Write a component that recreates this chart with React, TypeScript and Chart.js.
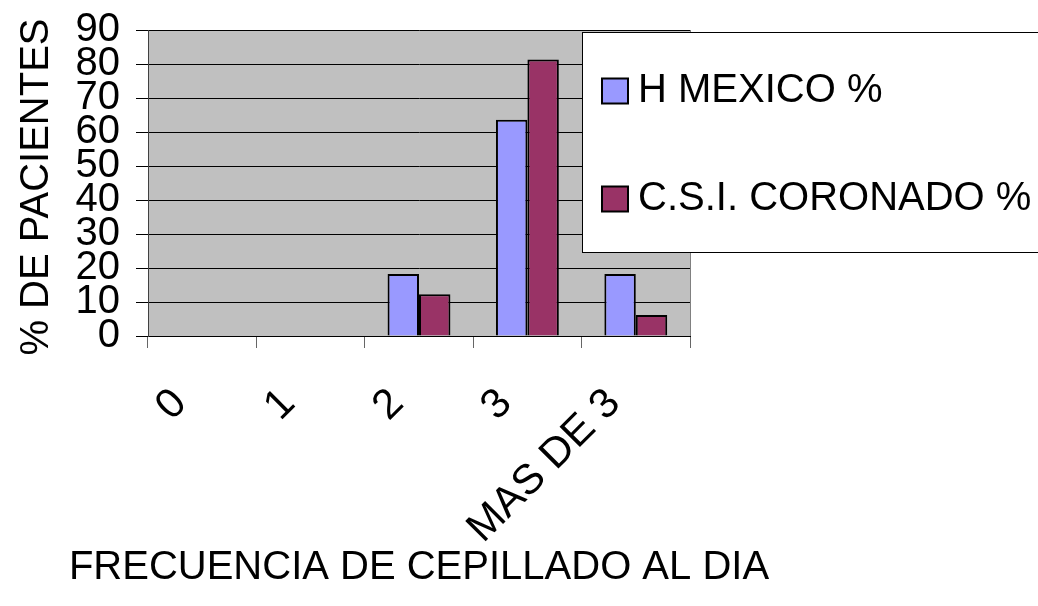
import React, { useEffect, useRef } from 'react';
import { Chart, registerables } from 'chart.js';

Chart.register(...registerables);

// ---- data ----
const categories: string[] = ['0', '1', '2', '3', 'MAS DE 3'];
const hMexico: number[] = [0, 0, 18.2, 63.6, 18.2];
const csiCoronado: number[] = [0, 0, 12.3, 81.3, 6.2];
const seriesNames: string[] = ['H MEXICO %', 'C.S.I. CORONADO %'];
const seriesColors: string[] = ['#9999FF', '#993366'];
const yTitle = '% DE PACIENTES';
const xTitle = 'FRECUENCIA DE CEPILLADO AL DIA';
const yMin = 0;
const yMax = 90;
const yStep = 10;

const FONT = "'Liberation Sans', Arial, Helvetica, sans-serif";

const plotBackground = {
  id: 'plotBackground',
  beforeDraw(chart: any) {
    const { ctx, chartArea } = chart;
    ctx.save();
    ctx.fillStyle = '#C0C0C0';
    ctx.fillRect(chartArea.left, chartArea.top, chartArea.right - chartArea.left, chartArea.bottom - chartArea.top);
    ctx.restore();
  },
  afterDatasetsDraw(chart: any) {
    const { ctx, chartArea } = chart;
    ctx.save();
    ctx.strokeStyle = '#808080';
    ctx.lineWidth = 1;
    ctx.beginPath();
    ctx.moveTo(Math.round(chartArea.right) + 0.5, chartArea.top);
    ctx.lineTo(Math.round(chartArea.right) + 0.5, chartArea.bottom);
    ctx.stroke();
    ctx.restore();
  },
};

const axisTitles = {
  id: 'axisTitles',
  afterDraw(chart: any) {
    const { ctx, chartArea } = chart;
    ctx.save();
    ctx.font = `40px ${FONT}`;
    ctx.fillStyle = '#000';
    ctx.textAlign = 'center';
    ctx.textBaseline = 'middle';
    // x title
    ctx.fillText(xTitle, (chartArea.left + chartArea.right) / 2, 568);
    // y title
    ctx.translate(37, 187);
    ctx.rotate(-Math.PI / 2);
    ctx.fillText(yTitle, 0, 0);
    ctx.restore();
  },
};

const boxLegend = {
  id: 'boxLegend',
  afterDraw(chart: any) {
    const { ctx } = chart;
    ctx.save();
    ctx.fillStyle = '#FFFFFF';
    ctx.fillRect(582, 32, 470, 220);
    ctx.strokeStyle = '#000';
    ctx.lineWidth = 1;
    ctx.strokeRect(582.5, 32.5, 470, 220);
    const rows = [91, 199];
    chart.data.datasets.forEach((ds: any, i: number) => {
      const cy = rows[i];
      ctx.fillStyle = ds.backgroundColor;
      ctx.fillRect(602, cy - 12.5, 26, 25);
      ctx.strokeStyle = '#000';
      ctx.lineWidth = 2;
      ctx.strokeRect(602, cy - 12.5, 26, 25);
      ctx.fillStyle = '#000';
      ctx.font = `40px ${FONT}`;
      ctx.textAlign = 'left';
      ctx.textBaseline = 'middle';
      ctx.fillText(ds.label, 638, cy);
    });
    ctx.restore();
  },
};

export default function App() {
  const canvasRef = useRef<HTMLCanvasElement | null>(null);

  useEffect(() => {
    if (!canvasRef.current) return;
    const chart = new Chart(canvasRef.current, {
      type: 'bar',
      data: {
        labels: categories,
        datasets: [
          {
            label: seriesNames[0],
            data: hMexico,
            backgroundColor: seriesColors[0],
            borderColor: '#000',
            borderWidth: 2,
            categoryPercentage: 0.58,
            barPercentage: 1,
          },
          {
            label: seriesNames[1],
            data: csiCoronado,
            backgroundColor: seriesColors[1],
            borderColor: '#000',
            borderWidth: 2,
            categoryPercentage: 0.58,
            barPercentage: 1,
          },
        ],
      },
      options: {
        responsive: false,
        animation: false,
        devicePixelRatio: 1,
        layout: { padding: { top: 30, right: 348, left: 0, bottom: 0 } },
        plugins: {
          legend: { display: false },
          tooltip: { enabled: false },
          title: { display: false },
        },
        scales: {
          x: {
            offset: true,
            grid: {
              display: true,
              drawOnChartArea: false,
              drawTicks: true,
              tickLength: 12,
              color: '#666',
              offset: true,
            },
            border: { display: true, color: '#000', width: 1 },
            ticks: {
              autoSkip: false,
              maxRotation: 45,
              minRotation: 45,
              padding: 31,
              labelOffset: -22,
              color: '#000',
              font: { family: FONT, size: 42 },
            },
            title: { display: false },
            afterFit: (scale: any) => {
              scale.height = 270;
              scale.paddingLeft = 0;
              scale.paddingRight = 0;
            },
          },
          y: {
            min: yMin,
            max: yMax,
            ticks: {
              stepSize: yStep,
              autoSkip: false,
              padding: 16,
              color: '#000',
              font: { family: FONT, size: 40 },
            },
            grid: { color: '#000', tickLength: 12, drawTicks: true, lineWidth: 1 },
            border: { display: true, color: '#404040', width: 1 },
            title: { display: false },
            afterFit: (scale: any) => {
              scale.width = 148;
              scale.paddingTop = 0;
              scale.paddingBottom = 0;
            },
          },
        },
      },
      plugins: [plotBackground, axisTitles, boxLegend],
    });
    return () => chart.destroy();
  }, []);

  return (
    <div style={{ position: 'fixed', left: 0, top: 0, width: 1038, height: 606, background: '#fff' }}>
      <canvas ref={canvasRef} width={1038} height={606} style={{ width: 1038, height: 606 }} />
    </div>
  );
}
